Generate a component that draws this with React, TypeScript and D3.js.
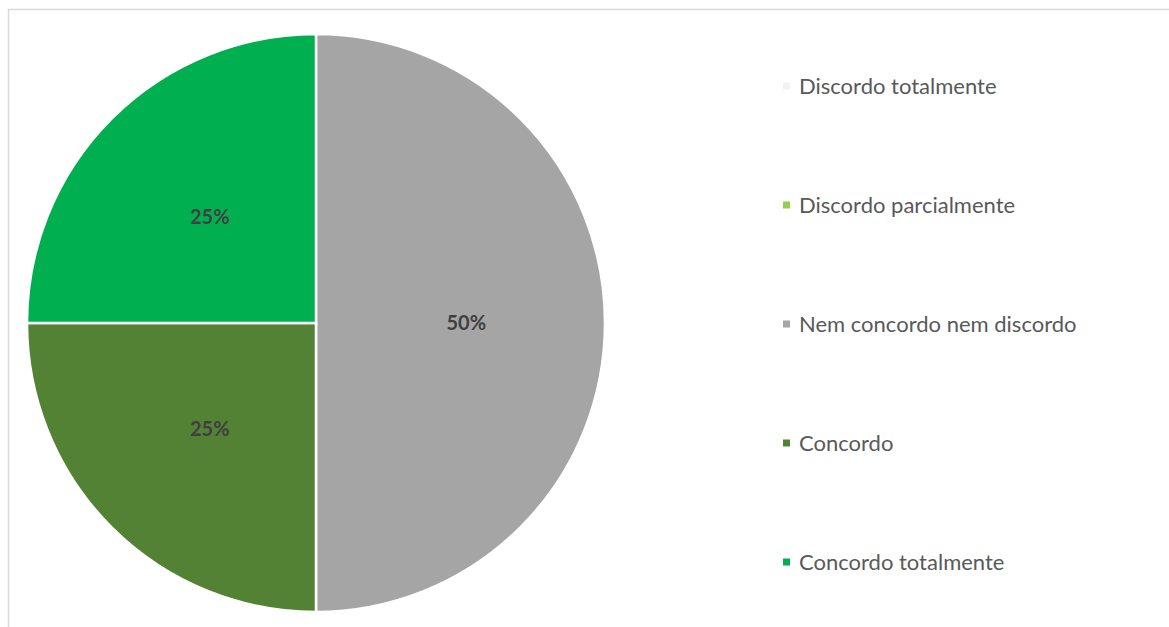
import React, { useEffect, useRef } from 'react';
import * as d3 from 'd3';

const categories = [
  'Discordo totalmente',
  'Discordo parcialmente',
  'Nem concordo nem discordo',
  'Concordo',
  'Concordo totalmente',
];
const values = [0, 0, 2, 1, 1];
const colors = ['#F2F2F2', '#92D050', '#A5A5A5', '#548235', '#00B050'];

interface Slice {
  name: string;
  value: number;
  color: string;
}

const width = 1169;
const height = 627;

const App: React.FC = () => {
  const svgRef = useRef<SVGSVGElement>(null);

  useEffect(() => {
    if (!svgRef.current) return;
    const svg = d3.select(svgRef.current);
    svg.selectAll('*').remove();

    const data: Slice[] = categories.map((name, i) => ({ name, value: values[i], color: colors[i] }));
    const total = d3.sum(values);

    // moldura do gráfico
    svg.append('rect')
      .attr('x', 8.5)
      .attr('y', 9.5)
      .attr('width', 1200)
      .attr('height', 700)
      .attr('fill', 'none')
      .attr('stroke', '#D9D9D9')
      .attr('stroke-width', 1.5);

    const cx = 316;
    const cy = 323;
    const radius = 289;

    const pie = d3.pie<Slice>().sort(null).value(d => d.value);
    const arc = d3.arc<d3.PieArcDatum<Slice>>().innerRadius(0).outerRadius(radius);
    const labelArc = d3.arc<d3.PieArcDatum<Slice>>().innerRadius(radius * 0.52).outerRadius(radius * 0.52);

    const g = svg.append('g').attr('transform', `translate(${cx},${cy})`);
    const arcs = pie(data).filter(d => d.value > 0);

    g.selectAll('path')
      .data(arcs)
      .join('path')
      .attr('d', arc)
      .attr('fill', d => d.data.color)
      .attr('stroke', '#fff')
      .attr('stroke-width', 2.5);

    g.selectAll('text')
      .data(arcs)
      .join('text')
      .attr('transform', d => {
        const [x, y] = labelArc.centroid(d);
        return `translate(${x},${y})`;
      })
      .attr('text-anchor', 'middle')
      .attr('dy', '0.35em')
      .attr('font-family', 'Lato, "Open Sans", sans-serif')
      .attr('font-weight', 'bold')
      .attr('font-size', 20)
      .attr('fill', '#404040')
      .text(d => `${Math.round((d.value / total) * 100)}%`);

    // legenda
    const legendY = d3.scalePoint<string>().domain(categories).range([86, 562]);
    const legend = svg.append('g')
      .selectAll('g')
      .data(data)
      .join('g')
      .attr('transform', d => `translate(783,${legendY(d.name)})`);

    legend.append('rect')
      .attr('x', 0)
      .attr('y', -3.5)
      .attr('width', 7)
      .attr('height', 7)
      .attr('fill', d => d.color);

    legend.append('text')
      .attr('x', 16)
      .attr('dy', '0.35em')
      .attr('font-family', 'Lato, "Open Sans", sans-serif')
      .attr('font-size', 22)
      .attr('fill', '#595959')
      .text(d => d.name);
  }, []);

  return (
    <svg
      ref={svgRef}
      width={width}
      height={height}
      style={{ position: 'absolute', left: 0, top: 0, background: '#fff' }}
    />
  );
};

export default App;
